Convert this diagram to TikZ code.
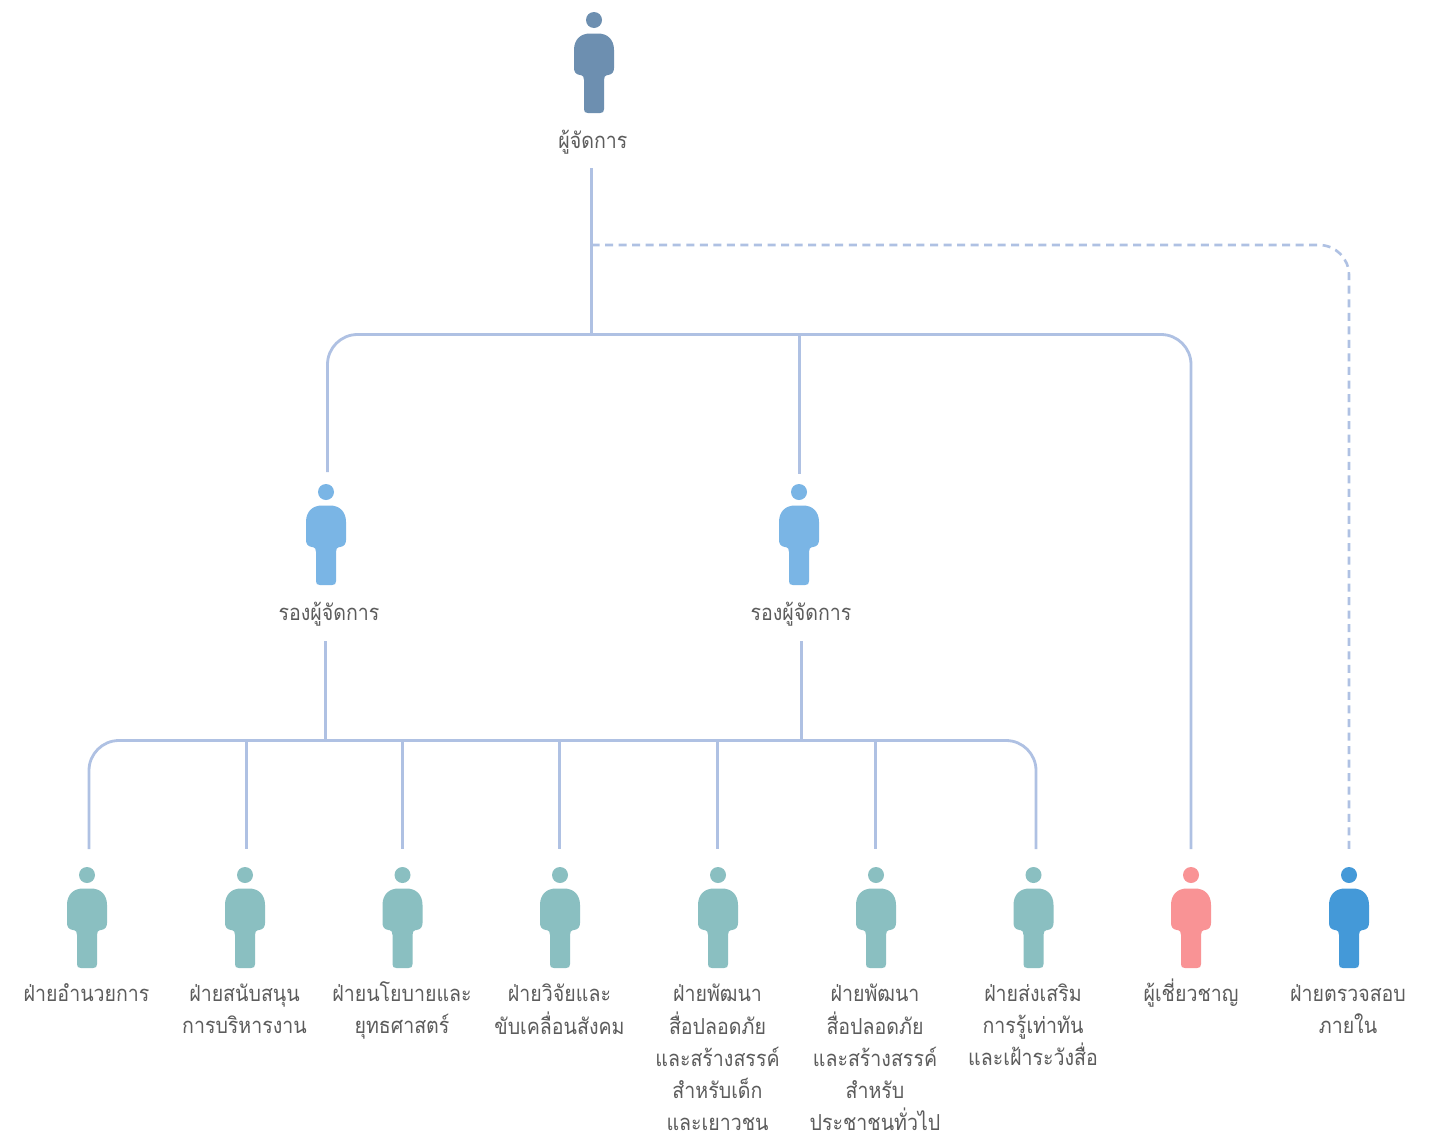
\documentclass[tikz,border=0pt]{standalone}
\usepackage{fontspec}
\newfontfamily\thaifont[Script=Thai,FakeStretch=0.89]{Loma}
\definecolor{linecol}{HTML}{AFC1E3}
\definecolor{txtcol}{HTML}{5C5C5C}
\definecolor{ptop}{HTML}{6D8FB0}
\definecolor{pmid}{HTML}{7AB5E5}
\definecolor{pteal}{HTML}{8ABFC1}
\definecolor{pred}{HTML}{F99395}
\definecolor{pblue}{HTML}{4499D8}
\tikzset{
  conn/.style={draw=linecol,line width=2.8pt},
  dashconn/.style={draw=linecol,line width=2.6pt,dash pattern=on 8pt off 5.54pt},
  lbl/.style={anchor=north,inner sep=0pt,outer sep=0pt,align=center,text=txtcol,font=\thaifont\fontsize{22}{32}\selectfont},
  pics/person/.style={code={
    \fill[#1] (0,0) circle (8);
    \fill[#1] (-20,30) .. controls (-20,19) and (-13,13.5) .. (-4,13.5)
      -- (4,13.5) .. controls (13,13.5) and (20,19) .. (20,30)
      -- (20,48) .. controls (20,52) and (18,54.5) .. (14,55)
      -- (13,55) .. controls (11,55.5) and (10,57) .. (10,60)
      -- (10,89) .. controls (10,92) and (9,93) .. (6,93)
      -- (-6,93) .. controls (-9,93) and (-10,92) .. (-10,89)
      -- (-10,60) .. controls (-10,57) and (-11,55.5) .. (-13,55)
      -- (-14,55) .. controls (-18,54.5) and (-20,52) .. (-20,48) -- cycle;
  }}
}
\begin{document}
\begin{tikzpicture}[x=1pt,y=-1pt]
\useasboundingbox[fill=white] (0,0) rectangle (1436,1138);
% people
\pic at (594,20) {person=ptop};
\pic at (326,492) {person=pmid};
\pic at (799,492) {person=pmid};
\pic at (87,875) {person=pteal};
\pic at (245,875) {person=pteal};
\pic at (402.5,875) {person=pteal};
\pic at (560,875) {person=pteal};
\pic at (718,875) {person=pteal};
\pic at (876,875) {person=pteal};
\pic at (1033.5,875) {person=pteal};
\pic at (1191,875) {person=pred};
\pic at (1349,875) {person=pblue};
% labels
\node[lbl] (top) at (593,126.5) {\strut ผู้จัดการ};
\node[lbl] (depA) at (329,598.5) {\strut รองผู้จัดการ};
\node[lbl] (depB) at (801,598.5) {\strut รองผู้จัดการ};
\node[lbl] (d1) at (86.5,979) {\strut ฝ่ายอำนวยการ};
\node[lbl] (d2) at (244.5,979) {\strut ฝ่ายสนับสนุน\\การบริหารงาน};
\node[lbl] (d3) at (402,979) {\strut ฝ่ายนโยบายและ\\ยุทธศาสตร์};
\node[lbl] (d4) at (559.5,979) {\strut ฝ่ายวิจัยและ\\ขับเคลื่อนสังคม};
\node[lbl] (d5) at (717.5,979) {\strut ฝ่ายพัฒนา\\สื่อปลอดภัย\\และสร้างสรรค์\\สำหรับเด็ก\\และเยาวชน};
\node[lbl] (d6) at (875,979) {\strut ฝ่ายพัฒนา\\สื่อปลอดภัย\\และสร้างสรรค์\\สำหรับ\\ประชาชนทั่วไป};
\node[lbl] (d7) at (1033,979) {\strut ฝ่ายส่งเสริม\\การรู้เท่าทัน\\และเฝ้าระวังสื่อ};
\node[lbl] (d8) at (1191,979) {\strut ผู้เชี่ยวชาญ};
\node[lbl] (d9) at (1348,979) {\strut ฝ่ายตรวจสอบ\\ภายใน};
% connector points
\coordinate (topS) at (591.5,168);
\coordinate (busA) at (591.5,334.5);
\coordinate (dashS) at (591.5,245);
\coordinate (dashC) at (1349,245);
\coordinate (dashE) at (1349,849);
\coordinate (aN) at (327.5,472);
\coordinate (aC) at (327.5,334.5);
\coordinate (bN) at (799.5,474);
\coordinate (bT) at (799.5,334.5);
\coordinate (rN) at (1191,849);
\coordinate (rC) at (1191,334.5);
\coordinate (aS) at (325.5,641);
\coordinate (aB) at (325.5,740.5);
\coordinate (bS) at (801.5,641);
\coordinate (bB) at (801.5,740.5);
\coordinate (n1) at (89,849);
\coordinate (c1) at (89,740.5);
\coordinate (n7) at (1036,849);
\coordinate (c7) at (1036,740.5);
\foreach \nm/\x in {2/246.5,3/402.5,4/559.5,5/717.5,6/875.5}{
  \coordinate (n\nm) at (\x,849);
  \coordinate (t\nm) at (\x,740.5);
}
% connectors
\draw[conn] (topS) -- (busA);
\draw[conn,rounded corners=30pt] (aN) -- (aC) -- (rC) -- (rN);
\draw[conn] (bT) -- (bN);
\draw[dashconn,rounded corners=30pt] (dashS) -- (dashC) -- (dashE);
\draw[conn] (aS) -- (aB);
\draw[conn] (bS) -- (bB);
\draw[conn,rounded corners=30pt] (n1) -- (c1) -- (c7) -- (n7);
\foreach \nm in {2,3,4,5,6}{\draw[conn] (t\nm) -- (n\nm);}
\end{tikzpicture}
\end{document}
